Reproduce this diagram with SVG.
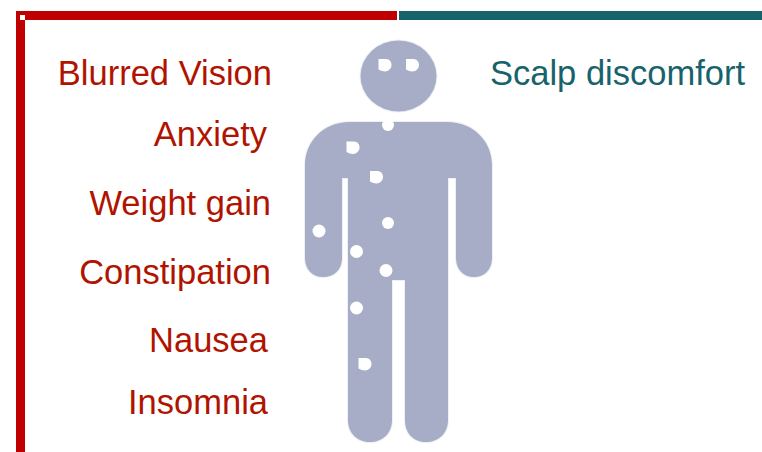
<svg xmlns="http://www.w3.org/2000/svg" width="762" height="452" viewBox="0 0 762 452">
<style>
text{font-family:"Liberation Sans",Arial,sans-serif;font-size:34.500px}
.r{fill:#b01400;text-anchor:end}
.t{fill:#17636b}
.d{fill:#fff}
.f{fill:#a7adc6;stroke:#a7adc6;stroke-opacity:.2;stroke-width:2}
</style>
<defs>
<path id="sq" d="M-6.500-6H1C4.500-6 6.500-3 6.500 0C6.500 3.500 3.500 6.500 0 6.500C-2 6.500-4.500 5.500-6.500 4.500Z"/>
</defs>
<rect width="762" height="452" fill="#fff"/>
<g id="frame">
<rect x="16" y="11" width="381" height="9" fill="#c00000"/>
<rect x="16" y="11" width="9" height="441" fill="#c00000"/>
<rect x="20" y="15" width="5" height="5" fill="#fff"/>
<rect x="399" y="11" width="363" height="9" fill="#17636b"/>
</g>
<g id="figure">
<ellipse class="f" cx="398.500" cy="76" rx="38" ry="35.500"/>
<path class="f" d="M350 122H447C474 122 492 142 492 165V258C492 270 484 277 474 277C464 277 456 270 456 258V178H448V420C448 434 438 442 426 442C414 442 405 434 405 420V280H392V420C392 434 382 442 370 442C358 442 348 434 348 420V178H342V258C342 270 334 277 323 277C313 277 305 270 305 258V165C305 142 323 122 350 122Z"/>
<use class="d" href="#sq" x="385" y="65"/>
<use class="d" href="#sq" x="412.500" y="65"/>
<circle class="d" cx="388" cy="125" r="6"/>
<use class="d" href="#sq" x="353" y="147.500"/>
<use class="d" href="#sq" x="376.500" y="177"/>
<circle class="d" cx="388" cy="223" r="6"/>
<circle class="d" cx="319" cy="231" r="6.500"/>
<circle class="d" cx="356.500" cy="251.500" r="6.500"/>
<circle class="d" cx="386" cy="270.500" r="6.500"/>
<circle class="d" cx="356.500" cy="308" r="6.500"/>
<use class="d" href="#sq" x="365" y="364"/>
</g>
<g id="labels">
<text class="r" x="272" y="85">Blurred Vision</text>
<text class="r" x="267" y="146">Anxiety</text>
<text class="r" x="271" y="215">Weight gain</text>
<text class="r" x="271" y="284">Constipation</text>
<text class="r" x="268" y="352">Nausea</text>
<text class="r" x="268" y="414">Insomnia</text>
<text class="t" x="490" y="85">Scalp discomfort</text>
</g>
</svg>
